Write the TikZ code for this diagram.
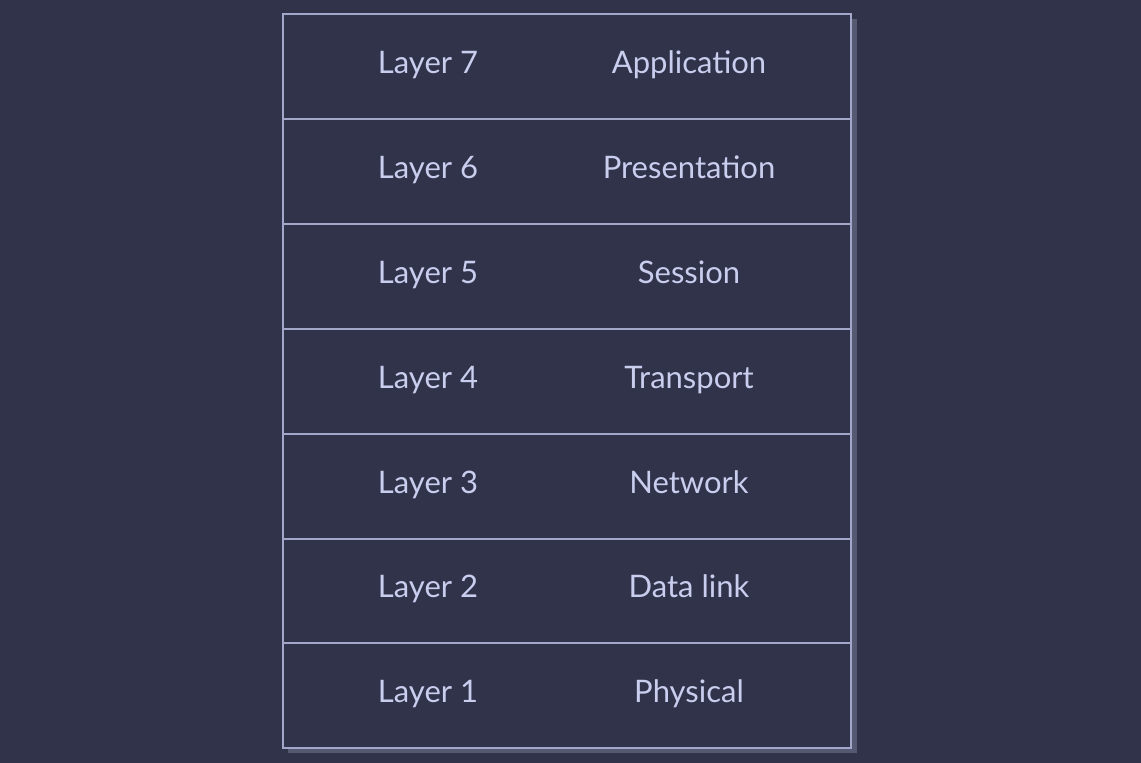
\documentclass[tikz,border=0pt]{standalone}
\usepackage{fontspec}
\setmainfont{Lato}
\definecolor{bg}{HTML}{31334A}
\definecolor{ln}{HTML}{A3A8CA}
\definecolor{tx}{HTML}{C9CDEE}
\definecolor{sh}{HTML}{555972}
\begin{document}
\begin{tikzpicture}[x=1pt,y=-1pt,
  cell/.style={draw=ln,line width=2pt,fill=bg,minimum width=568pt,minimum height=104.9pt,inner sep=0pt,anchor=north west},
  lbl/.style={text=tx,font=\fontsize{31}{33}\selectfont,anchor=base,inner sep=0pt}]
\fill[bg] (0,0) rectangle (1141,763);
\useasboundingbox (0,0) rectangle (1141,763);
\fill[sh] (288,19) rectangle (857,753);
\foreach \i/\name in {7/Application,6/Presentation,5/Session,4/Transport,3/Network,2/Data link,1/Physical}{
  \pgfmathsetmacro{\yy}{13+(7-\i)*104.9}
  \node[cell] (r\i) at (282,\yy) {};
  \node[lbl] (l\i) at ([xshift=-139pt,yshift=-7pt]r\i.center) {Layer \i};
  \node[lbl] (n\i) at ([xshift=122pt,yshift=-7pt]r\i.center) {\name};
}
\end{tikzpicture}
\end{document}
